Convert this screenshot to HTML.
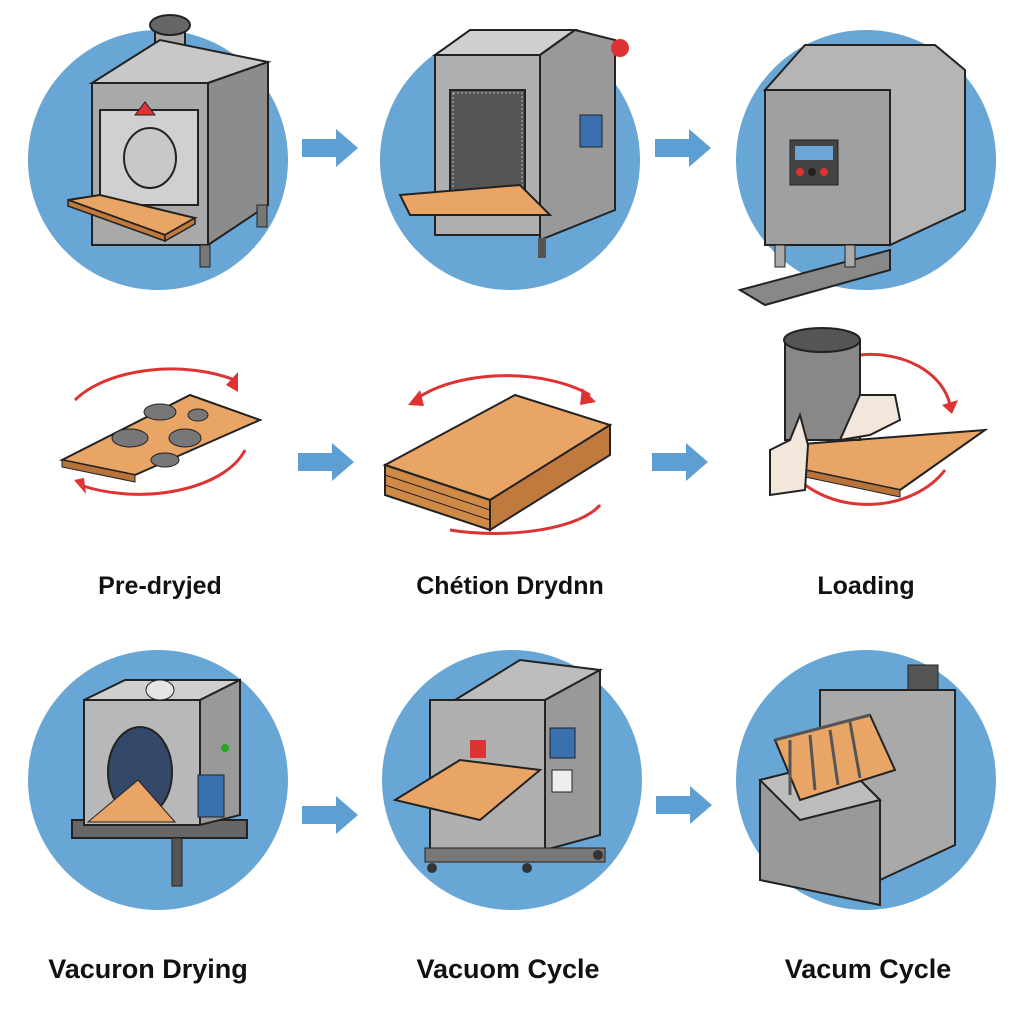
<!DOCTYPE html>
<html><head><meta charset="utf-8"><style>
html,body{margin:0;padding:0;background:#fff;}
svg{display:block}
text{font-family:"Liberation Sans",sans-serif;font-weight:bold;fill:#111}
</style></head><body>
<svg width="1024" height="1024" viewBox="0 0 1024 1024" xmlns="http://www.w3.org/2000/svg">
<defs>
<g id="arr"><polygon points="0,-9 34,-9 34,-19 56,0 34,19 34,9 0,9" fill="#5e9fd3"/></g>
</defs>
<circle cx="158" cy="160" r="130" fill="#68a6d6"/>
<circle cx="510" cy="160" r="130" fill="#68a6d6"/>
<circle cx="866" cy="160" r="130" fill="#68a6d6"/>
<!-- machine 1 -->
<rect x="155" y="25" width="30" height="45" fill="#aaa" stroke="#222" stroke-width="2"/>
<ellipse cx="170" cy="25" rx="20" ry="10" fill="#666" stroke="#222" stroke-width="2"/>
<polygon points="92,83 208,83 268,62 160,40" fill="#c8c8c8" stroke="#222" stroke-width="2"/>
<rect x="92" y="83" width="116" height="162" fill="#a9a9a9" stroke="#222" stroke-width="2"/>
<polygon points="208,83 268,62 268,205 208,245" fill="#8c8c8c" stroke="#222" stroke-width="2"/>
<rect x="100" y="110" width="98" height="95" fill="#d0d0d0" stroke="#222" stroke-width="2"/>
<ellipse cx="150" cy="158" rx="26" ry="30" fill="#c8c8c8" stroke="#222" stroke-width="2"/>
<polygon points="135,115 145,102 155,115" fill="#d33" stroke="#222"/>
<polygon points="68,200 100,195 195,218 165,235" fill="#e8a565" stroke="#222" stroke-width="2"/>
<polygon points="68,200 165,235 165,241 68,206" fill="#c07a3e" stroke="#222" stroke-width="1.5"/>
<polygon points="165,235 195,218 195,224 165,241" fill="#c07a3e" stroke="#222" stroke-width="1.5"/>
<rect x="200" y="245" width="10" height="22" fill="#777" stroke="#222"/>
<rect x="257" y="205" width="10" height="22" fill="#777" stroke="#222"/>
<!-- machine 2 -->
<polygon points="435,55 540,55 575,30 470,30" fill="#cfcfcf" stroke="#222" stroke-width="2"/>
<rect x="435" y="55" width="105" height="180" fill="#b0b0b0" stroke="#222" stroke-width="2"/>
<polygon points="540,55 575,30 615,40 615,210 540,240" fill="#999" stroke="#222" stroke-width="2"/>
<rect x="450" y="90" width="75" height="110" fill="#555" stroke="#222" stroke-width="2"/>
<rect x="453" y="93" width="69" height="104" fill="none" stroke="#bbb" stroke-width="1" stroke-dasharray="2,2"/>
<polygon points="400,195 520,185 550,215 410,215" fill="#e8a565" stroke="#222" stroke-width="2"/>
<rect x="580" y="115" width="22" height="32" fill="#3a6fb0" stroke="#222"/>
<circle cx="620" cy="48" r="9" fill="#d33"/>
<rect x="538" y="238" width="8" height="20" fill="#555"/>
<!-- machine 3 -->
<polygon points="740,290 890,250 890,270 765,305" fill="#888" stroke="#222" stroke-width="2"/>
<polygon points="765,90 890,90 890,245 765,245" fill="#a0a0a0" stroke="#222" stroke-width="2"/>
<polygon points="805,45 935,45 965,70 965,210 890,245 890,90 765,90" fill="#b5b5b5" stroke="#222" stroke-width="2"/>
<rect x="790" y="140" width="48" height="45" fill="#444" stroke="#222"/>
<rect x="795" y="146" width="38" height="14" fill="#6aa7d8"/>
<circle cx="800" cy="172" r="4" fill="#d33"/><circle cx="812" cy="172" r="4" fill="#222"/><circle cx="824" cy="172" r="4" fill="#d33"/>
<rect x="775" y="245" width="10" height="22" fill="#aaa" stroke="#222"/>
<rect x="845" y="245" width="10" height="22" fill="#aaa" stroke="#222"/>
<use href="#arr" x="302" y="148"/>
<use href="#arr" x="655" y="148"/>
<!-- Row 2 -->
<path d="M75,400 A110,60 0 0 1 235,380" fill="none" stroke="#d33" stroke-width="3"/>
<polygon points="238,372 238,392 226,385" fill="#d33"/>
<path d="M245,450 A110,60 0 0 1 80,485" fill="none" stroke="#d33" stroke-width="3"/>
<polygon points="74,480 86,494 84,478" fill="#d33"/>
<polygon points="62,460 190,395 260,420 135,475" fill="#e8a565" stroke="#222" stroke-width="2"/>
<polygon points="62,460 135,475 135,482 62,467" fill="#b8733a" stroke="#222"/>
<ellipse cx="130" cy="438" rx="18" ry="9" fill="#777" stroke="#222"/>
<ellipse cx="160" cy="412" rx="16" ry="8" fill="#777" stroke="#222"/>
<ellipse cx="185" cy="438" rx="16" ry="9" fill="#777" stroke="#222"/>
<ellipse cx="165" cy="460" rx="14" ry="7" fill="#777" stroke="#222"/>
<ellipse cx="198" cy="415" rx="10" ry="6" fill="#777" stroke="#222"/>
<use href="#arr" x="298" y="462"/>
<path d="M415,400 A110,55 0 0 1 590,395" fill="none" stroke="#d33" stroke-width="3"/>
<polygon points="420,390 408,405 424,406" fill="#d33"/>
<polygon points="582,388 596,402 580,405" fill="#d33"/>
<path d="M450,530 A110,40 0 0 0 600,505" fill="none" stroke="#d33" stroke-width="3"/>
<polygon points="385,465 515,395 610,425 490,500" fill="#e8a565" stroke="#222" stroke-width="2"/>
<polygon points="385,465 490,500 490,530 385,495" fill="#d08a48" stroke="#222" stroke-width="2"/>
<polygon points="490,500 610,425 610,455 490,530" fill="#c07a3e" stroke="#222" stroke-width="2"/>
<line x1="385" y1="475" x2="490" y2="510" stroke="#222"/><line x1="385" y1="485" x2="490" y2="520" stroke="#222"/>
<use href="#arr" x="652" y="462"/>
<path d="M860,355 A80,60 0 0 1 950,405" fill="none" stroke="#d33" stroke-width="3"/>
<polygon points="942,405 958,400 952,414" fill="#d33"/>
<path d="M790,470 A90,70 0 0 0 945,470" fill="none" stroke="#d33" stroke-width="3"/>
<polygon points="790,445 985,430 900,490 805,470" fill="#e8a565" stroke="#222" stroke-width="2"/>
<polygon points="805,470 900,490 900,497 805,477" fill="#b8733a" stroke="#222"/>
<rect x="785" y="340" width="75" height="100" fill="#888" stroke="#222" stroke-width="2"/>
<ellipse cx="822" cy="340" rx="38" ry="12" fill="#555" stroke="#222" stroke-width="2"/>
<path d="M770,450 L790,440 L800,415 L808,445 L805,490 L770,495 Z" fill="#f3e6da" stroke="#222" stroke-width="2"/>
<path d="M840,440 L860,395 L895,395 L900,420 L870,435 Z" fill="#f3e6da" stroke="#222" stroke-width="2"/>
<text x="160" y="594" font-size="25" text-anchor="middle">Pre-dryjed</text>
<text x="510" y="594" font-size="25" text-anchor="middle">Chétion Drydnn</text>
<text x="866" y="594" font-size="25" text-anchor="middle">Loading</text>
<circle cx="158" cy="780" r="130" fill="#68a6d6"/>
<circle cx="512" cy="780" r="130" fill="#68a6d6"/>
<circle cx="866" cy="780" r="130" fill="#68a6d6"/>
<rect x="72" y="820" width="175" height="18" fill="#666" stroke="#222" stroke-width="2"/>
<rect x="172" y="838" width="10" height="48" fill="#555" stroke="#222"/>
<polygon points="84,700 200,700 240,680 125,680" fill="#cfcfcf" stroke="#222" stroke-width="2"/>
<rect x="84" y="700" width="116" height="125" fill="#b8b8b8" stroke="#222" stroke-width="2"/>
<polygon points="200,700 240,680 240,815 200,825" fill="#999" stroke="#222" stroke-width="2"/>
<ellipse cx="160" cy="690" rx="14" ry="10" fill="#e5e5e5" stroke="#222"/>
<ellipse cx="140" cy="772" rx="32" ry="45" fill="#34496a" stroke="#222" stroke-width="2"/>
<polygon points="88,822 138,780 175,822" fill="#e8a565" stroke="#222"/>
<rect x="198" y="775" width="26" height="42" fill="#3a6fb0" stroke="#222"/>
<circle cx="225" cy="748" r="4" fill="#2a2"/>
<polygon points="455,700 545,700 600,670 520,660" fill="#bdbdbd" stroke="#222" stroke-width="2"/>
<rect x="430" y="700" width="115" height="150" fill="#b0b0b0" stroke="#222" stroke-width="2"/>
<polygon points="545,700 600,670 600,835 545,850" fill="#999" stroke="#222" stroke-width="2"/>
<polygon points="395,800 460,760 540,770 480,820" fill="#e8a565" stroke="#222" stroke-width="2"/>
<rect x="470" y="740" width="16" height="18" fill="#d33"/>
<rect x="550" y="728" width="25" height="30" fill="#3a6fb0" stroke="#222"/>
<rect x="552" y="770" width="20" height="22" fill="#eee" stroke="#222"/>
<rect x="425" y="848" width="180" height="14" fill="#777" stroke="#222"/>
<circle cx="432" cy="868" r="5" fill="#333"/><circle cx="527" cy="868" r="5" fill="#333"/><circle cx="598" cy="855" r="5" fill="#333"/>
<rect x="908" y="665" width="30" height="30" fill="#555" stroke="#222"/>
<polygon points="820,690 955,690 955,845 880,880 820,845" fill="#a9a9a9" stroke="#222" stroke-width="2"/>
<polygon points="760,780 840,760 880,800 880,905 760,880" fill="#999" stroke="#222" stroke-width="2"/>
<polygon points="760,780 840,760 880,800 800,820" fill="#bdbdbd" stroke="#222" stroke-width="2"/>
<polygon points="775,740 870,715 895,770 800,800" fill="#e8a565" stroke="#222" stroke-width="2"/>
<g stroke="#555" stroke-width="3"><line x1="790" y1="740" x2="790" y2="795"/><line x1="810" y1="735" x2="815" y2="790"/><line x1="830" y1="730" x2="838" y2="785"/><line x1="850" y1="722" x2="860" y2="778"/><line x1="775" y1="740" x2="870" y2="715"/></g>
<use href="#arr" x="302" y="815"/>
<use href="#arr" x="656" y="805"/>
<text x="148" y="978" font-size="27" text-anchor="middle">Vacuron Drying</text>
<text x="508" y="978" font-size="27" text-anchor="middle">Vacuom Cycle</text>
<text x="868" y="978" font-size="27" text-anchor="middle">Vacum Cycle</text>
</svg>
</body></html>
